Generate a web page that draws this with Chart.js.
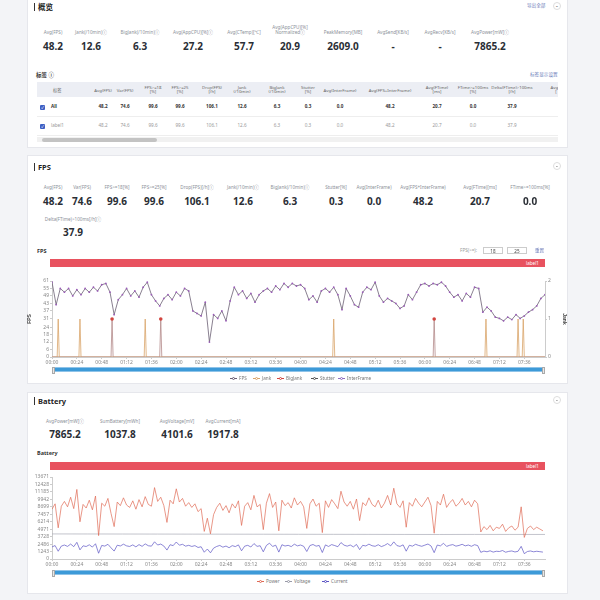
<!DOCTYPE html>
<html>
<head>
<meta charset="utf-8">
<script src="https://cdn.jsdelivr.net/npm/chart.js@4.4.1/dist/chart.umd.min.js"></script>
<style>
    body { margin: 0; width: 600px; height: 600px; background: #f3f4f7; position: relative; overflow: hidden;
           font-family: "Noto Sans", "Noto Sans CJK SC", sans-serif; color: #333; }
    .card { position: absolute; left: 27px; width: 541px; background: #fff; border: 1px solid #e6e7ec; box-sizing: border-box; }
    .t { position: absolute; white-space: pre; line-height: 1.15; }
    .title { font-size: 7.5px; font-weight: bold; color: #222; border-left: 1.5px solid #333; padding-left: 3px; line-height: 8px; }
    .lbl { font-size: 4.6px; color: #8b9099; text-align: center; }
    .val { font-size: 10px; font-weight: bold; color: #2a2e35; }
    .small { font-size: 4.6px; color: #6a7ab8; }
    .th { font-size: 4.3px; color: #666; text-align: center; }
    .td { font-size: 4.6px; font-weight: bold; color: #333; }
    .td2 { font-size: 4.6px; color: #999; }
    .sub { font-size: 5.5px; font-weight: bold; color: #333; }
    .btn { position: absolute; width: 8px; height: 8px; border: 1px solid #ddd; border-radius: 50%; box-sizing: border-box;
           font-size: 7px; line-height: 5px; text-align: center; color: #666; }
    .bar { position: absolute; left: 50px; width: 495px; height: 8px; background: #e8525f; }
    .bar span { position: absolute; right: 6px; top: 1px; font-size: 4.6px; color: #fff; }
    .slider { position: absolute; left: 52px; width: 493px; height: 5px; background: #3d9ad8; border: 0.5px solid #8fc3e8; box-sizing: border-box; }
    .handle { position: absolute; top: -1.5px; width: 3px; height: 7px; background: #e8e8e8; border: 0.5px solid #aaa; box-sizing: border-box; }
    .leg { position: absolute; font-size: 4.6px; color: #777; white-space: nowrap; }
    .leg i { display: inline-block; width: 7px; height: 1px; vertical-align: middle; margin-right: 2px; position: relative; }
    .leg i b { position: absolute; left: 2px; top: -1px; width: 3px; height: 3px; border-radius: 50%; background: #fff; border: 0.6px solid; box-sizing: border-box; }
    .box { position: absolute; height: 7px; border: 0.5px solid #ccc; box-sizing: border-box; font-size: 4.6px; text-align: center; line-height: 6px; color: #444; }
</style>
</head>
<body>

<div class="card" style="top:-2px;height:150px"></div>
<div class="card" style="top:155px;height:229px"></div>
<div class="card" style="top:392px;height:202px"></div>

<div id="tableClip" style="position:absolute;left:37px;top:80px;width:521px;height:66px;overflow:hidden"></div>

<div class="bar" style="top:259px"><span>label1</span></div>
<div class="bar" style="top:462px"><span>label1</span></div>

<div style="position:absolute;left:27px;top:276px;width:540px;height:92px"><canvas id="fpsChart"></canvas></div>
<div style="position:absolute;left:27px;top:472px;width:540px;height:97px"><canvas id="batteryChart"></canvas></div>

<div class="slider" style="top:367px"><div class="handle" style="left:-1px"></div><div class="handle" style="right:-1px"></div></div>
<div class="slider" style="top:570px"><div class="handle" style="left:-1px"></div><div class="handle" style="right:-1px"></div></div>

<script>
// ===== Data =====
const overviewNames = ["Avg(FPS)", "Jank(/10min)ⓘ", "BigJank(/10min)ⓘ", "Avg(AppCPU)[%]ⓘ", "Avg(CTemp)[℃]",
    "Avg(AppCPU)[%]\nNormalizedⓘ", "PeakMemory[MB]", "AvgSend[KB/s]", "AvgRecv[KB/s]", "AvgPower[mW]ⓘ"];
const overviewValues = ["48.2", "12.6", "6.3", "27.2", "57.7", "20.9", "2609.0", "-", "-", "7865.2"];

const tableHeaders = ["标签", "Avg(FPS)", "Var(FPS)", "FPS>=18\n[%]", "FPS>=25\n[%]", "Drop(FPS)\n[/h]", "Jank\n(/10min)",
    "BigJank\n(/10min)", "Stutter\n[%]", "Avg(InterFrame)", "Avg(FPS+InterFrame)", "Avg(FTime)\n[ms]",
    "FTime>=100ms\n[%]", "Delta(FTime)>100ms\n[/h]", "Avg(F\n["];
const tableRows = [
    ["All", "48.2", "74.6", "99.6", "99.6", "106.1", "12.6", "6.3", "0.3", "0.0", "48.2", "20.7", "0.0", "37.9"],
    ["label1", "48.2", "74.6", "99.6", "99.6", "106.1", "12.6", "6.3", "0.3", "0.0", "48.2", "20.7", "0.0", "37.9"]
];

const fpsNames = ["Avg(FPS)", "Var(FPS)", "FPS>=18[%]", "FPS>=25[%]", "Drop(FPS)[/h]ⓘ", "Jank(/10min)ⓘ", "BigJank(/10min)ⓘ",
    "Stutter[%]", "Avg(InterFrame)", "Avg(FPS+InterFrame)", "Avg(FTime)[ms]", "FTime>=100ms[%]", "Delta(FTime)>100ms[/h]ⓘ"];
const fpsStats = ["48.2", "74.6", "99.6", "99.6", "106.1", "12.6", "6.3", "0.3", "0.0", "48.2", "20.7", "0.0", "37.9"];

const batteryNames = ["AvgPower[mW]ⓘ", "SumBattery[mWh]", "AvgVoltage[mV]", "AvgCurrent[mA]"];
const batteryStats = ["7865.2", "1037.8", "4101.6", "1917.8"];

// FPS, one value every 4 s
const FPS_STEP = 4;
const fpsValues = [
    60, 42, 55, 52, 55, 49, 54, 50, 55, 52,
    56, 53, 58, 59, 52, 34, 46, 50, 55, 49,
    53, 48, 56, 60, 50, 45, 41, 47, 50, 46,
    52, 49, 55, 53, 37, 35, 33, 44, 12, 34,
    31, 37, 29, 45, 56, 50, 53, 47, 51, 44,
    50, 53, 55, 52, 57, 54, 59, 56, 59, 57,
    58, 55, 46, 49, 44, 53, 55, 52, 56, 50,
    38, 55, 49, 42, 40, 52, 56, 54, 60, 49,
    44, 47, 45, 43, 39, 41, 50, 46, 52, 58,
    59, 57, 59, 58, 60, 57, 52, 48, 50, 45,
    51, 48, 56, 55, 36, 40, 37, 32, 31, 29,
    32, 30, 34, 31, 33, 36, 38, 41, 47, 50
];
const jankTimes = [6, 27, 90, 272, 419, 450, 455];
const bigJankTimes = [58, 105, 369];
const fpsTicks = [0, 6, 12, 18, 24, 31, 37, 43, 49, 55, 61];
const jankTicks = [0, 1, 2];
const END_TIME = 476;

// Battery, one value every 3 s
const BAT_STEP = 3;
const powerValues = [
    8300, 9200, 5200, 8800, 9600, 8700, 10300, 8400, 11600, 6200,
    9100, 8500, 9800, 8200, 10500, 3900, 9300, 8800, 10100, 7600,
    5400, 9500, 8900, 10200, 9000, 8600, 9700, 8300, 9900, 8700,
    10400, 9100, 8800, 11900, 9600, 10300, 8900, 6100, 9800, 9200,
    11700, 9500, 10100, 8800, 9400, 8600, 9200, 7900, 8400, 4600,
    6800, 4200, 7400, 8600, 9300, 8100, 8900, 7700, 9200, 8500,
    9700, 5600, 8800, 9400, 8200, 10600, 8700, 9100, 4900, 9300,
    10900, 8600, 9500, 4700, 9800, 8900, 9400, 8500, 10200, 9000,
    9600, 8700, 5100, 9200, 10000, 8800, 9300, 4400, 9700, 8600,
    9900, 9200, 8400, 11300, 9500, 8800, 9600, 8300, 10000, 6400,
    9400, 8900, 10200, 9100, 8700, 9800, 8500, 9300, 10600, 9000,
    11800, 9200, 8600, 9700, 5300, 9400, 8800, 10100, 9300, 8700,
    9500, 10300, 8900, 4300, 9600, 9000, 10800, 8600, 9400, 9900,
    8800, 9300, 10100, 9000, 9600, 8700, 9800, 9200, 4500, 5400,
    4900, 5600, 4700, 5300, 5100, 5800, 4600, 5200, 5500, 4800,
    5300, 8700, 3600, 5100, 5500, 4900, 5300, 5000, 4700
];
const currentValues = [
    2010, 2240, 1290, 2150, 2330, 2100, 2490, 2060, 2780, 1520,
    2200, 2080, 2370, 1990, 2540, 960, 2260, 2150, 2450, 1860,
    1320, 2300, 2170, 2470, 2190, 2090, 2350, 2020, 2400, 2110,
    2520, 2210, 2140, 2870, 2330, 2490, 2160, 1490, 2380, 2230,
    2830, 2300, 2450, 2140, 2280, 2090, 2230, 1920, 2040, 1130,
    1660, 1030, 1810, 2090, 2260, 1970, 2160, 1880, 2230, 2070,
    2350, 1370, 2140, 2280, 2000, 2570, 2110, 2210, 1200, 2260,
    2640, 2090, 2300, 1150, 2380, 2160, 2280, 2070, 2470, 2190,
    2330, 2120, 1250, 2240, 2420, 2140, 2260, 1080, 2350, 2090,
    2400, 2240, 2050, 2740, 2310, 2140, 2330, 2020, 2430, 1570,
    2280, 2170, 2480, 2210, 2120, 2380, 2070, 2260, 2570, 2190,
    2860, 2240, 2100, 2360, 1300, 2290, 2140, 2450, 2260, 2120,
    2310, 2500, 2170, 1060, 2330, 2190, 2620, 2100, 2290, 2400,
    2140, 2260, 2450, 2190, 2330, 2120, 2380, 2240, 1110, 1320,
    1200, 1370, 1150, 1290, 1250, 1410, 1130, 1270, 1340, 1170,
    1290, 2110, 890, 1250, 1340, 1200, 1290, 1220, 1150
];
// Voltage, one value every 34 s
const VOLT_STEP = 34;
const voltageValues = [4180, 4172, 4163, 4155, 4146, 4138, 4129, 4120, 4112, 4103, 4094, 4086, 4098, 4094, 4090];
const batteryTicks = [0, 1243, 2486, 3728, 4971, 6214, 7457, 8699, 9942, 11185, 12428, 13671];

// ===== Page text =====
function put(x, y, s, cls, center) {
    const d = document.createElement("div");
    d.className = "t " + cls;
    d.textContent = s;
    d.style.left = x + "px";
    d.style.top = y + "px";
    d.style.transform = center ? "translate(-50%,-50%)" : "translateY(-50%)";
    return d;
}
function add(el, parent) { (parent || document.body).appendChild(el); }

add(put(34, 7, "概览", "title"));
add(put(34, 167, "FPS", "title"));
add(put(34, 401, "Battery", "title"));
add(put(527, 6, "导出全部", "small"));
add(put(530, 75, "标签显示设置", "small"));

[6, 166, 400].forEach(y => {
    const b = document.createElement("div");
    b.className = "btn";
    b.textContent = "-";
    b.style.left = "553px";
    b.style.top = (y - 4) + "px";
    add(b);
});

const overviewX = [53, 91, 140, 193, 244, 290, 343, 393, 440, 490];
overviewNames.forEach((n, i) => {
    add(put(overviewX[i], n.includes("\n") ? 30 : 33, n, "lbl", true));
    add(put(overviewX[i], 47, overviewValues[i], "val", true));
});

add(put(36, 75, "标签 ⓘ", "sub"));

const fpsX = [53, 82, 117, 154, 197, 243, 290, 336, 374, 423, 480, 530];
fpsNames.forEach((n, i) => {
    if (i < 12) {
        add(put(fpsX[i], 188, n, "lbl", true));
        add(put(fpsX[i], 202, fpsStats[i], "val", true));
    } else {
        add(put(73, 220, n, "lbl", true));
        add(put(73, 233, fpsStats[i], "val", true));
    }
});

const batX = [65, 120, 177, 223];
batteryNames.forEach((n, i) => {
    add(put(batX[i], 422, n, "lbl", true));
    add(put(batX[i], 435, batteryStats[i], "val", true));
});

add(put(37, 251, "FPS", "sub"));
add(put(37, 453, "Battery", "sub"));
add(put(460, 251, "FPS(>=):", "td2"));
[["18", 483], ["25", 507]].forEach(([v, x]) => {
    const b = document.createElement("div");
    b.className = "box";
    b.textContent = v;
    b.style.left = x + "px";
    b.style.top = "247px";
    b.style.width = "20px";
    add(b);
});
add(put(535, 251, "重置", "small"));

// ===== Table =====
const clip = document.getElementById("tableClip");
const head = document.createElement("div");
head.style.cssText = "position:absolute;left:0;top:2px;width:521px;height:15px;background:#eceef4";
clip.appendChild(head);
const tableX = [16, 66, 88, 116, 143, 175, 205, 240, 271, 303, 353, 400, 436, 475, 519];
tableHeaders.forEach((h, i) => {
    add(put(tableX[i], 9.5, h, "th", i > 0), clip);
});
tableRows.forEach((row, r) => {
    const y = 27 + r * 19;
    const cb = document.createElement("div");
    cb.style.cssText = "position:absolute;left:3px;top:" + (y - 2.5) + "px;width:5px;height:5px;background:#3d5fc4;border-radius:1px;color:#fff;font-size:4px;line-height:5px;text-align:center";
    cb.textContent = "✓";
    clip.appendChild(cb);
    row.forEach((v, i) => {
        add(put(i === 0 ? 14 : tableX[i], y, v, r === 0 ? "td" : "td2", i > 0), clip);
    });
    const line = document.createElement("div");
    line.style.cssText = "position:absolute;left:0;top:" + (y + 9) + "px;width:521px;height:0.5px;background:#eee";
    clip.appendChild(line);
});
const track = document.createElement("div");
track.style.cssText = "position:absolute;left:0;top:57px;width:521px;height:5px;background:#f1f1f1";
clip.appendChild(track);
const thumb = document.createElement("div");
thumb.style.cssText = "position:absolute;left:5px;top:58px;width:115px;height:3.5px;background:#c3c3c3;border-radius:2px";
clip.appendChild(thumb);

// ===== Legends =====
function legend(items, y) {
    items.forEach(([name, color, x]) => {
        const d = document.createElement("div");
        d.className = "leg";
        d.style.left = x + "px";
        d.style.top = (y - 3) + "px";
        d.innerHTML = '<i style="background:' + color + '"><b style="border-color:' + color + '"></b></i>' + name;
        add(d);
    });
}
legend([["FPS", "#6b5f74", 230], ["Jank", "#d9a46a", 253], ["BigJank", "#d2443e", 277], ["Stutter", "#555", 311], ["InterFrame", "#8e6bc0", 338]], 378);
legend([["Power", "#e06a55", 257], ["Voltage", "#999aa8", 285], ["Current", "#5b54c4", 322]], 581);

// ===== Charts =====
const timeLabel = v => {
    const m = Math.floor(v / 60), s = v % 60;
    return String(m).padStart(2, "0") + ":" + String(s).padStart(2, "0");
};
const axisFont = { size: 5, family: "Noto Sans" };

function spikes(times) {
    const pts = [{ x: 0, y: 0 }];
    times.forEach(t => pts.push({ x: t - 1, y: 0 }, { x: t, y: 1 }, { x: t + 1, y: 0 }));
    pts.push({ x: END_TIME, y: 0 });
    return pts;
}

function xScale(h) {
    return {
        type: "linear", min: 0, max: END_TIME,
        ticks: { stepSize: 24, includeBounds: false, autoSkip: false, maxRotation: 0, font: axisFont, color: "#888", padding: 1, callback: timeLabel },
        grid: { drawOnChartArea: false, tickLength: 2, color: "#ccc" },
        border: { color: "#ccc" },
        afterFit(scale) { scale.height = h; }
    };
}

function yScale(list, extra) {
    return Object.assign({
        min: list[0], max: list[list.length - 1],
        afterBuildTicks(scale) { scale.ticks = list.map(v => ({ value: v })); },
        ticks: { autoSkip: false, font: axisFont, color: "#888", padding: 1, callback: v => String(v) },
        grid: { drawOnChartArea: false, tickLength: 2, color: "#ccc" },
        border: { color: "#ccc" }
    }, extra);
}

new Chart(document.getElementById("fpsChart"), {
    type: "line",
    data: {
        datasets: [
            {
                label: "FPS", yAxisID: "y",
                data: fpsValues.map((v, i) => ({ x: i * FPS_STEP, y: v })),
                borderColor: "#6b5f74", borderWidth: 0.8,
                pointRadius: 0.9, pointBackgroundColor: "#9a5cb8", pointBorderWidth: 0
            },
            {
                label: "Jank", yAxisID: "y1", data: spikes(jankTimes),
                borderColor: "#d9a46a", borderWidth: 0.8, pointRadius: 0
            },
            {
                label: "BigJank", yAxisID: "y1", data: spikes(bigJankTimes),
                borderColor: "#b48a8a", borderWidth: 0.8,
                pointRadius: c => (c.raw && c.raw.y === 1 ? 1.8 : 0),
                pointBackgroundColor: "#d2443e", pointBorderWidth: 0
            },
            {
                label: "Stutter", yAxisID: "y1", data: [{ x: 0, y: 0 }, { x: END_TIME, y: 0 }],
                borderColor: "#bbb", borderWidth: 0.6, pointRadius: 0
            },
            {
                label: "InterFrame", yAxisID: "y1", data: [{ x: 0, y: 0 }, { x: END_TIME, y: 0 }],
                borderColor: "#c9b6e4", borderWidth: 0.6, pointRadius: 0
            }
        ]
    },
    options: {
        responsive: true, maintainAspectRatio: false, animation: false,
        layout: { padding: { top: 5 } },
        plugins: { legend: { display: false }, tooltip: { enabled: false } },
        scales: {
            x: xScale(11),
            y: yScale(fpsTicks, {
                title: { display: true, text: "FPS", font: { size: 5, weight: "bold" }, color: "#444", padding: 0 },
                afterFit(scale) { scale.width = 25; }
            }),
            y1: yScale(jankTicks, {
                position: "right",
                title: { display: true, text: "Jank", font: { size: 5, weight: "bold" }, color: "#444", padding: 0 },
                afterFit(scale) { scale.width = 22; }
            })
        }
    }
});

new Chart(document.getElementById("batteryChart"), {
    type: "line",
    data: {
        datasets: [
            {
                label: "Power", data: powerValues.map((v, i) => ({ x: i * BAT_STEP, y: v })),
                borderColor: "#e06a55", borderWidth: 0.7, pointRadius: 0
            },
            {
                label: "Voltage", data: voltageValues.map((v, i) => ({ x: Math.min(i * VOLT_STEP, END_TIME), y: v })),
                borderColor: "#a9aab6", borderWidth: 0.7, pointRadius: 0
            },
            {
                label: "Current", data: currentValues.map((v, i) => ({ x: i * BAT_STEP, y: v })),
                borderColor: "#5b54c4", borderWidth: 0.7, pointRadius: 0
            }
        ]
    },
    options: {
        responsive: true, maintainAspectRatio: false, animation: false,
        layout: { padding: { top: 5, right: 22 } },
        plugins: { legend: { display: false }, tooltip: { enabled: false } },
        scales: {
            x: xScale(10),
            y: yScale(batteryTicks, { afterFit(scale) { scale.width = 25; } })
        }
    }
});
</script>
</body>
</html>
